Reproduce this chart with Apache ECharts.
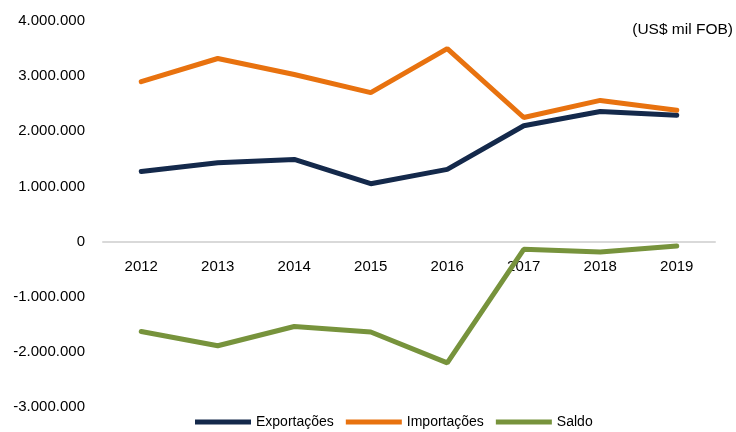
<!DOCTYPE html>
<html>
<head>
<meta charset="utf-8">
<script src="https://cdn.jsdelivr.net/npm/echarts@6/dist/echarts.min.js"></script>
<style>
    html, body { margin: 0; padding: 0; background: #fff; }
    #chart { width: 736px; height: 432px; }
</style>
</head>
<body>
<div id="chart"></div>
<script>
var anos = ['2012', '2013', '2014', '2015', '2016', '2017', '2018', '2019'];
var exportacoes = [1270000, 1430000, 1490000, 1050000, 1310000, 2100000, 2360000, 2290000];
var importacoes = [2900000, 3320000, 3030000, 2700000, 3500000, 2250000, 2560000, 2380000];
var saldo = [-1630000, -1890000, -1540000, -1640000, -2200000, -140000, -190000, -80000];

// formata com ponto como separador de milhar
function fmt(v) {
    var neg = v < 0;
    var s = String(Math.abs(v)).replace(/\B(?=(\d{3})+(?!\d))/g, '.');
    return (neg ? '-' : '') + s;
}

var myChart = echarts.init(document.getElementById('chart'));

var font = 'Liberation Sans';
var gridTop = 21, gridBottom = 25;
var yMin = -3000000, yMax = 4000000;
// desloca o eixo x até a linha do zero
var plotH = 432 - gridTop - gridBottom;
var zeroOffset = -plotH * (0 - yMin) / (yMax - yMin);

var option = {
    animation: false,
    grid: {
        left: 103,
        right: 21,
        top: gridTop,
        bottom: gridBottom,
        containLabel: false,
        outerBoundsMode: 'none'
    },
    legend: {
        top: 415,
        left: 195,
        padding: 0,
        itemWidth: 56,
        itemHeight: 5,
        itemGap: 12,
        icon: 'path://M0,0 L56,0 L56,5 L0,5 Z',
        textStyle: {
            fontFamily: font,
            fontSize: 14,
            color: '#000'
        },
        data: ['Exportações', 'Importações', 'Saldo']
    },
    graphic: [{
        type: 'text',
        right: 3,
        top: 22,
        style: {
            text: '(US$ mil FOB)',
            fontFamily: font,
            fontSize: 15.5,
            fill: '#000'
        }
    }],
    xAxis: {
        type: 'category',
        data: anos,
        offset: zeroOffset,
        axisLine: {
            onZero: false,
            lineStyle: { color: '#d9d9d9', width: 2 }
        },
        axisTick: { show: false },
        axisLabel: {
            margin: 18,
            fontFamily: font,
            fontSize: 15,
            color: '#000'
        }
    },
    yAxis: {
        type: 'value',
        min: yMin,
        max: yMax,
        interval: 1000000,
        splitLine: { show: false },
        axisLine: { show: false },
        axisTick: { show: false },
        axisLabel: {
            margin: 18,
            fontFamily: font,
            fontSize: 15,
            color: '#000',
            formatter: fmt
        }
    },
    series: [{
        name: 'Exportações',
        type: 'line',
        data: exportacoes,
        symbol: 'none',
        color: '#14294b',
        lineStyle: { width: 5, color: '#14294b', cap: 'round' }
    }, {
        name: 'Importações',
        type: 'line',
        data: importacoes,
        symbol: 'none',
        color: '#e8720f',
        lineStyle: { width: 5, color: '#e8720f', cap: 'round' }
    }, {
        name: 'Saldo',
        type: 'line',
        data: saldo,
        symbol: 'none',
        color: '#77933c',
        lineStyle: { width: 5, color: '#77933c', cap: 'round' }
    }]
};

myChart.setOption(option);
</script>
</body>
</html>
